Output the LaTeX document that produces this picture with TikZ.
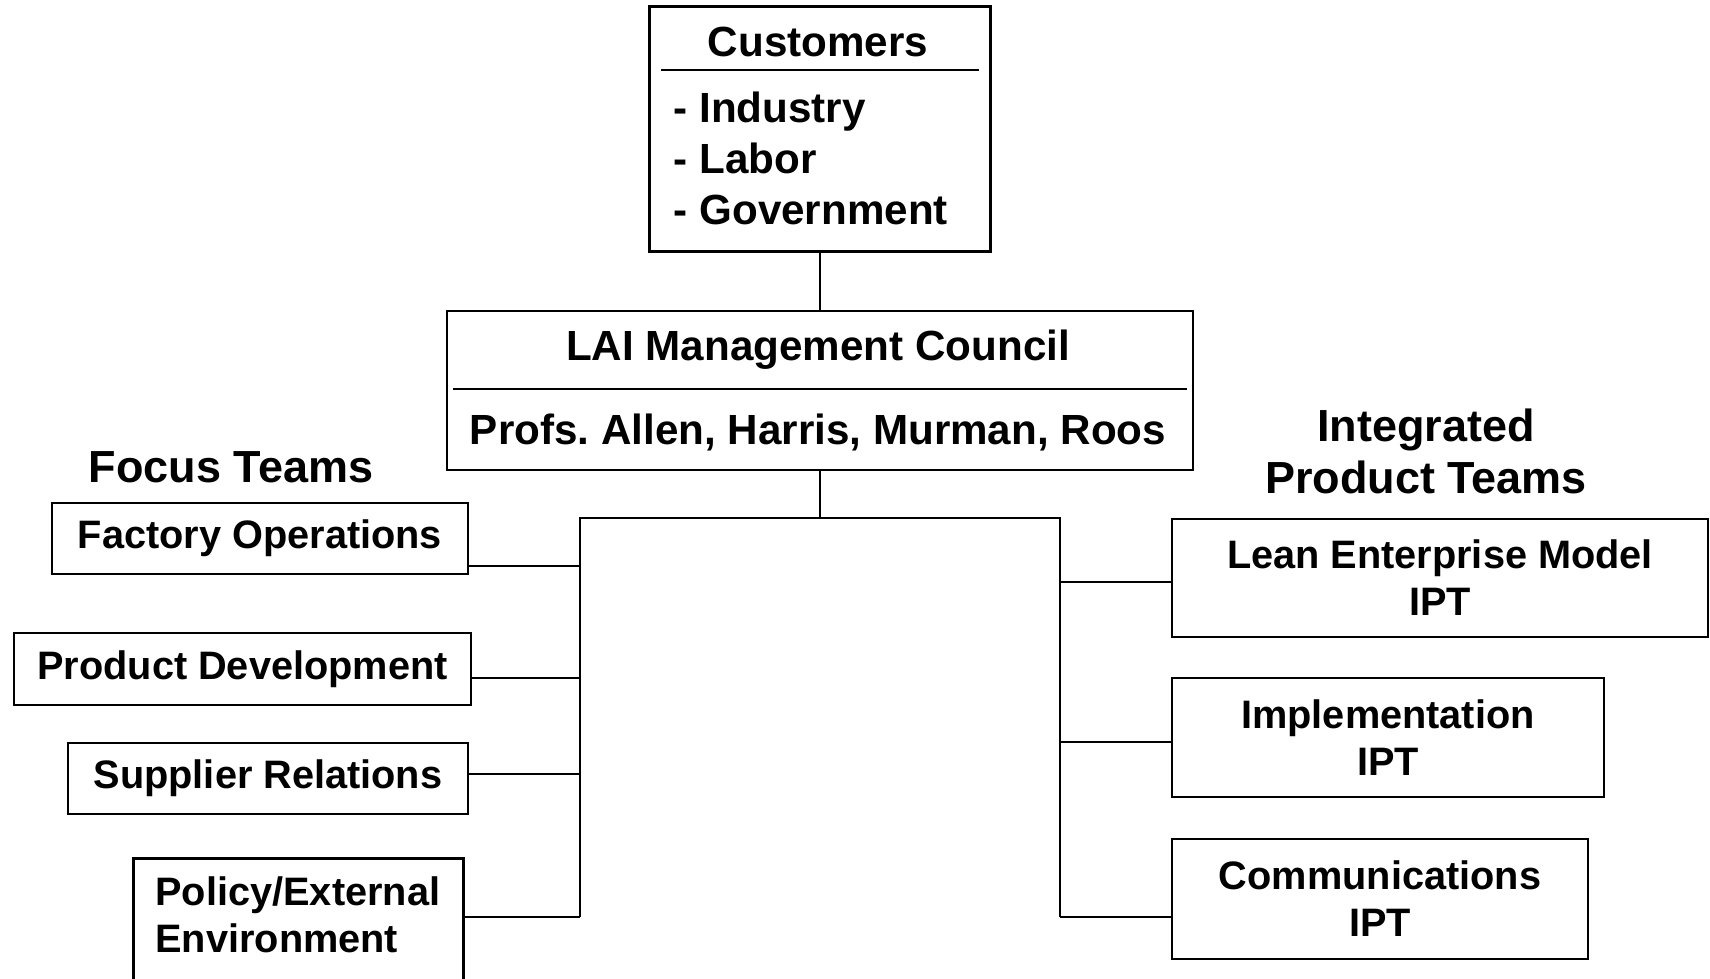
\documentclass[tikz,border=0pt]{standalone}
\usepackage{fontspec}
\setmainfont{Liberation Sans}
\frenchspacing
\begin{document}
\begin{tikzpicture}[
  box/.style={draw,line width=0.8pt,inner sep=0pt,align=center,
    font=\fontsize{11.3}{13.4}\selectfont\bfseries},
  big/.style={inner sep=0pt,font=\fontsize{12}{14.5}\selectfont\bfseries},
  head/.style={inner sep=0pt,align=center,font=\fontsize{12.8}{14.8}\selectfont\bfseries},
  wire/.style={line width=0.75pt}]
\useasboundingbox (0,0) rectangle (17.1,-9.78);

% customers and council
\node[box,minimum width=3.41cm,minimum height=2.455cm] (cust) at (8.2,-1.29) {};
\node[big] (custtitle) at (8.18,-0.42) {Customers};
\node[big,align=left,anchor=west] (custlist) at (6.73,-1.58) {- Industry\\- Labor\\- Government};
\draw[wire] (6.61,-0.70) -- (9.79,-0.70);

\node[box,minimum width=7.46cm,minimum height=1.59cm] (lai) at (8.2,-3.905) {};
\node[big] (laititle) at (8.18,-3.50) {LAI Management Council};
\node[big] (laiprofs) at (8.18,-4.32) {Profs. Allen, Harris, Murman, Roos};
\draw[wire] (4.53,-3.89) -- (11.87,-3.89);

\draw[wire] (cust) -- (lai);

% headings
\node[head] (focus) at (2.31,-4.67) {Focus Teams};
\node[head] (ipt) at (14.26,-4.51) {Integrated\\Product Teams};

% focus teams
\node[box,minimum width=4.16cm,minimum height=0.71cm] (fo) at (2.60,-5.385) {Factory Operations};
\node[box,minimum width=4.57cm,minimum height=0.72cm] (pd) at (2.425,-6.69) {Product Development};
\node[box,minimum width=4.00cm,minimum height=0.71cm] (sr) at (2.68,-7.785) {Supplier Relations};
\node[box,minimum width=3.30cm,minimum height=1.50cm,anchor=north west] (pe) at (1.32,-8.57) {};
\node[box,draw=none,align=left,anchor=north west] (petext) at (1.54,-8.75) {Policy/External\\Environment};

% integrated product teams
\node[box,minimum width=5.36cm,minimum height=1.18cm] (lem) at (14.40,-5.78) {Lean Enterprise Model\\IPT};
\node[box,minimum width=4.32cm,minimum height=1.19cm] (imp) at (13.88,-7.375) {Implementation\\IPT};
\node[box,minimum width=4.16cm,minimum height=1.20cm] (com) at (13.80,-8.99) {Communications\\IPT};

% trunk
\coordinate (hub) at (8.2,-5.18);
\coordinate (lt) at (5.80,-5.18);
\coordinate (rt) at (10.60,-5.18);
\coordinate (lb) at (5.80,-9.17);
\coordinate (rb) at (10.60,-9.17);
\draw[wire] (lai) -- (hub);
\draw[wire] (lb) -- (lt) -- (rt) -- (rb);

% branches
\foreach \n/\y in {fo/-5.66,pd/-6.78,sr/-7.74,pe/-9.17}
  \draw[wire] (\n.east |- 0,\y) -- (lt |- 0,\y);
\foreach \n/\y in {lem/-5.82,imp/-7.42,com/-9.17}
  \draw[wire] (rt |- 0,\y) -- (\n.west |- 0,\y);
\end{tikzpicture}
\end{document}
